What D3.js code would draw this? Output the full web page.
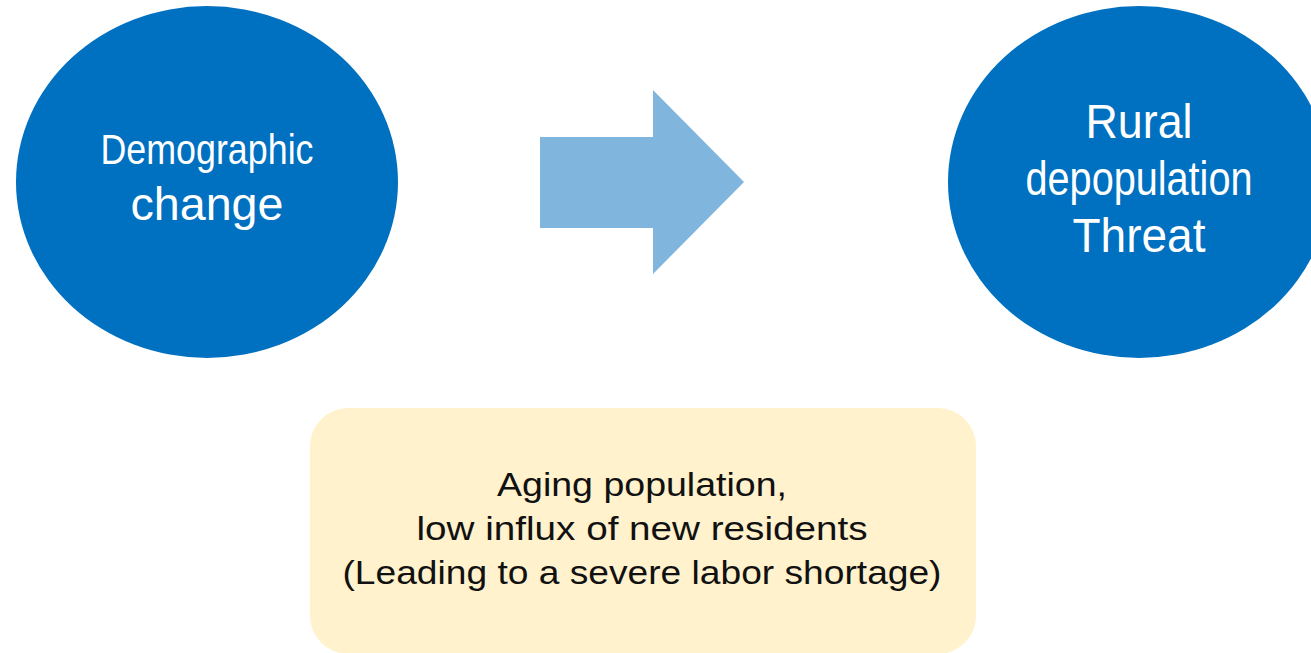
<!DOCTYPE html>
<html>
<head>
<meta charset="utf-8">
<script src="https://cdn.jsdelivr.net/npm/d3@7"></script>
<style>
  html, body { margin: 0; padding: 0; background: #ffffff; overflow: hidden; }
  svg { display: block; }
</style>
</head>
<body>
<svg id="chart" width="1311" height="653"></svg>
<script>
// ---- content ----
const sourceLines = ["Demographic", "change"];
const targetLines = ["Rural", "depopulation", "Threat"];
const causeLines = ["Aging population,", "low influx of new residents", "(Leading to a severe labor shortage)"];

// ---- layout (not data) ----
const W = 1311, H = 653;
const svg = d3.select("#chart");
const blue = "#0070c0", arrowBlue = "#80b6dd", boxFill = "#fff2cc";
const font = "'Liberation Sans', Arial, sans-serif";

// circles
const circles = [
  { cx: 207, cy: 182, rx: 191, ry: 176, lines: sourceLines,
    fmt: [ { y: 164, size: 42, len: 213, ls: -2 }, { y: 220, size: 47, len: 153 } ] },
  { cx: 1139, cy: 182, rx: 191, ry: 176, lines: targetLines,
    fmt: [ { y: 138, size: 48, len: 107 }, { y: 195, size: 48, len: 227 }, { y: 252, size: 48, len: 133 } ] }
];

const g = svg.selectAll("g.node").data(circles).join("g").attr("class", "node");
g.append("ellipse")
  .attr("cx", d => d.cx).attr("cy", d => d.cy)
  .attr("rx", d => d.rx).attr("ry", d => d.ry)
  .attr("fill", blue);
g.each(function(d) {
  d3.select(this).selectAll("text")
    .data(d.lines.map((t, i) => ({ t, f: d.fmt[i], cx: d.cx })))
    .join("text")
    .attr("x", e => e.cx)
    .attr("y", e => e.f.y)
    .attr("text-anchor", "middle")
    .attr("fill", "#ffffff")
    .attr("font-family", font)
    .attr("font-size", e => e.f.size)
    .attr("textLength", e => e.f.len)
    .attr("lengthAdjust", "spacingAndGlyphs")
    .text(e => e.t);
});

// arrow
const arrowPts = [[540,137],[653,137],[653,90],[744,182],[653,274],[653,228],[540,228]];
svg.append("path")
  .attr("d", d3.line()(arrowPts) + "Z")
  .attr("fill", arrowBlue);

// cause box
const box = { x: 310, y: 408, w: 666, h: 246, r: 38 };
svg.append("rect")
  .attr("x", box.x).attr("y", box.y)
  .attr("width", box.w).attr("height", box.h)
  .attr("rx", box.r).attr("ry", box.r)
  .attr("fill", boxFill);

const causeFmt = [ { y: 496, len: 290 }, { y: 540, len: 451 }, { y: 584, len: 599 } ];
svg.selectAll("text.cause")
  .data(causeLines.map((t, i) => ({ t, f: causeFmt[i] })))
  .join("text")
  .attr("class", "cause")
  .attr("x", 642)
  .attr("y", d => d.f.y)
  .attr("text-anchor", "middle")
  .attr("fill", "#111111")
  .attr("font-family", font)
  .attr("font-size", 33)
  .attr("textLength", d => d.f.len)
  .attr("lengthAdjust", "spacingAndGlyphs")
  .text(d => d.t);
</script>
</body>
</html>
